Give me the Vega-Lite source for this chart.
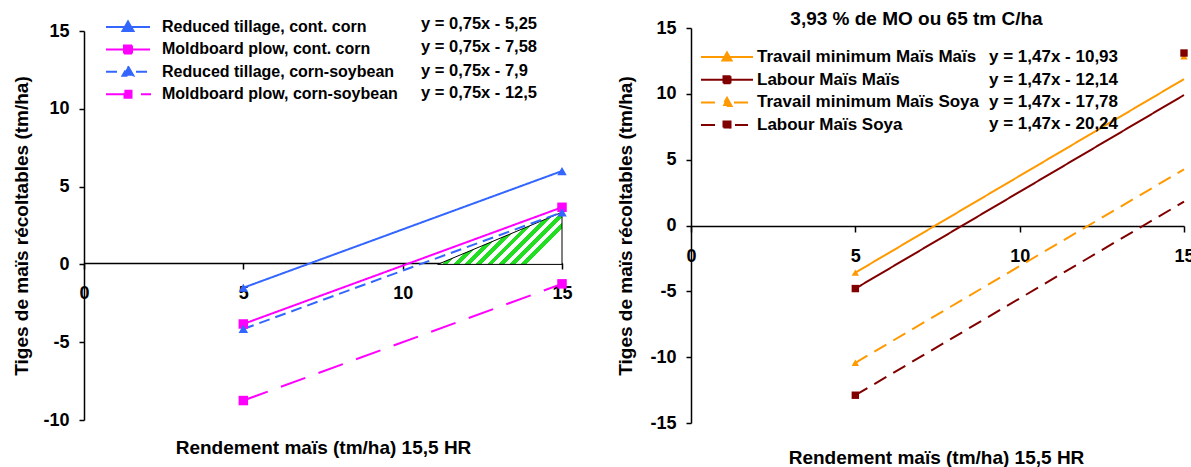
{
  "$schema": "https://vega.github.io/schema/vega-lite/v6.json",
  "padding": {"left": 12, "top": 10, "right": 0, "bottom": 0},
  "bounds": "flush",
  "center": true,
  "spacing": 129,
  "resolve": {
    "scale": {"color": "independent", "strokeDash": "independent", "strokeWidth": "independent", "shape": "independent", "x": "independent", "y": "independent"},
    "legend": {"color": "independent", "shape": "independent"}
  },
  "config": {
    "view": {"stroke": null},
    "font": "Liberation Sans",
    "axis": {
      "grid": false,
      "domainColor": "black",
      "domainWidth": 1.5,
      "tickColor": "black",
      "tickWidth": 1.5,
      "labelColor": "black",
      "titleColor": "black",
      "labelFont": "Liberation Sans",
      "titleFont": "Liberation Sans",
      "labelFontSize": 18,
      "labelFontWeight": "bold",
      "titleFontSize": 19,
      "titleFontWeight": "bold",
      "labelFlush": false,
      "labelOverlap": false,
      "labelExpr": "toString(datum.value)"
    },
    "legend": {
      "labelFont": "Liberation Sans",
      "labelFontWeight": "bold",
      "labelColor": "black",
      "padding": 0,
      "symbolSize": 400,
      "labelLimit": 500
    }
  },
  "datasets": {
    "L": [
      {"series": "Reduced tillage, cont. corn", "eq": "y = 0,75x - 5,25", "x": 5, "y": -1.5},
      {"series": "Reduced tillage, cont. corn", "eq": "y = 0,75x - 5,25", "x": 15, "y": 6},
      {"series": "Moldboard plow, cont. corn", "eq": "y = 0,75x - 7,58", "x": 5, "y": -3.83},
      {"series": "Moldboard plow, cont. corn", "eq": "y = 0,75x - 7,58", "x": 15, "y": 3.67},
      {"series": "Reduced tillage, corn-soybean", "eq": "y = 0,75x - 7,9", "x": 5, "y": -4.15},
      {"series": "Reduced tillage, corn-soybean", "eq": "y = 0,75x - 7,9", "x": 15, "y": 3.35},
      {"series": "Moldboard plow, corn-soybean", "eq": "y = 0,75x - 12,5", "x": 5, "y": -8.75},
      {"series": "Moldboard plow, corn-soybean", "eq": "y = 0,75x - 12,5", "x": 15, "y": -1.25}
    ],
    "H": [
      {"x": 11.1, "y": 0, "y2": 0},
      {"x": 15, "y": 3.35, "y2": 0}
    ],
    "R": [
      {"series": "Travail minimum Maïs Maïs", "eq": "y = 1,47x - 10,93", "x": 5, "y": -3.58},
      {"series": "Travail minimum Maïs Maïs", "eq": "y = 1,47x - 10,93", "x": 15, "y": 11.12},
      {"series": "Labour Maïs Maïs", "eq": "y = 1,47x - 12,14", "x": 5, "y": -4.79},
      {"series": "Labour Maïs Maïs", "eq": "y = 1,47x - 12,14", "x": 15, "y": 9.91},
      {"series": "Travail minimum Maïs Soya", "eq": "y = 1,47x - 17,78", "x": 5, "y": -10.43},
      {"series": "Travail minimum Maïs Soya", "eq": "y = 1,47x - 17,78", "x": 15, "y": 4.27},
      {"series": "Labour Maïs Soya", "eq": "y = 1,47x - 20,24", "x": 5, "y": -12.89},
      {"series": "Labour Maïs Soya", "eq": "y = 1,47x - 20,24", "x": 15, "y": 1.81}
    ],
    "RP": [
      {"series": "Travail minimum Maïs Maïs", "x": 5, "y": -3.58},
      {"series": "Labour Maïs Maïs", "x": 5, "y": -4.79},
      {"series": "Travail minimum Maïs Soya", "x": 5, "y": -10.43},
      {"series": "Labour Maïs Soya", "x": 5, "y": -12.89},
      {"series": "Travail minimum Maïs Maïs", "x": 15, "y": 12.85},
      {"series": "Labour Maïs Maïs", "x": 15, "y": 13.1}
    ]
  },
  "hconcat": [
    {
      "width": 478,
      "height": 389,
      "resolve": {"scale": {"shape": "independent"}},
      "layer": [
        {
          "data": {"name": "H"},
          "mark": {
            "type": "area",
            "stroke": "black",
            "strokeWidth": 1,
            "fill": {
              "gradient": "linear", "x1": 0, "y1": 0, "x2": 1, "y2": 0.42,
              "stops": [
                {"offset": 0, "color": "#22dd22"}, {"offset": 0.0385, "color": "#22dd22"}, {"offset": 0.0385, "color": "white"}, {"offset": 0.0769, "color": "white"},
                {"offset": 0.0769, "color": "#22dd22"}, {"offset": 0.1154, "color": "#22dd22"}, {"offset": 0.1154, "color": "white"}, {"offset": 0.1538, "color": "white"},
                {"offset": 0.1538, "color": "#22dd22"}, {"offset": 0.1923, "color": "#22dd22"}, {"offset": 0.1923, "color": "white"}, {"offset": 0.2308, "color": "white"},
                {"offset": 0.2308, "color": "#22dd22"}, {"offset": 0.2692, "color": "#22dd22"}, {"offset": 0.2692, "color": "white"}, {"offset": 0.3077, "color": "white"},
                {"offset": 0.3077, "color": "#22dd22"}, {"offset": 0.3462, "color": "#22dd22"}, {"offset": 0.3462, "color": "white"}, {"offset": 0.3846, "color": "white"},
                {"offset": 0.3846, "color": "#22dd22"}, {"offset": 0.4231, "color": "#22dd22"}, {"offset": 0.4231, "color": "white"}, {"offset": 0.4615, "color": "white"},
                {"offset": 0.4615, "color": "#22dd22"}, {"offset": 0.5, "color": "#22dd22"}, {"offset": 0.5, "color": "white"}, {"offset": 0.5385, "color": "white"},
                {"offset": 0.5385, "color": "#22dd22"}, {"offset": 0.5769, "color": "#22dd22"}, {"offset": 0.5769, "color": "white"}, {"offset": 0.6154, "color": "white"},
                {"offset": 0.6154, "color": "#22dd22"}, {"offset": 0.6538, "color": "#22dd22"}, {"offset": 0.6538, "color": "white"}, {"offset": 0.6923, "color": "white"},
                {"offset": 0.6923, "color": "#22dd22"}, {"offset": 0.7308, "color": "#22dd22"}, {"offset": 0.7308, "color": "white"}, {"offset": 0.7692, "color": "white"},
                {"offset": 0.7692, "color": "#22dd22"}, {"offset": 0.8077, "color": "#22dd22"}, {"offset": 0.8077, "color": "white"}, {"offset": 0.8462, "color": "white"},
                {"offset": 0.8462, "color": "#22dd22"}, {"offset": 0.8846, "color": "#22dd22"}, {"offset": 0.8846, "color": "white"}, {"offset": 0.9231, "color": "white"},
                {"offset": 0.9231, "color": "#22dd22"}, {"offset": 0.9615, "color": "#22dd22"}, {"offset": 0.9615, "color": "white"}, {"offset": 1, "color": "white"}
              ]
            }
          },
          "encoding": {
            "x": {
              "field": "x", "type": "quantitative",
              "scale": {"domain": [0, 15], "nice": false},
              "axis": {
                "values": [0, 5, 10, 15],
                "offset": -157,
                "tickSize": 6,
                "labelPadding": 15,
                "title": "Rendement maïs (tm/ha) 15,5 HR",
                "titleX": 239,
                "titleY": 184,
                "titleBaseline": "middle",
                "titleAlign": "center"
              }
            },
            "y": {
              "field": "y", "type": "quantitative",
              "scale": {"domain": [-10, 15], "nice": false},
              "axis": {
                "values": [-10, -5, 0, 5, 10, 15],
                "tickSize": 5,
                "labelPadding": 10,
                "title": "Tiges de maïs récoltables (tm/ha)",
                "titleX": -63,
                "titleBaseline": "middle",
                "titleAlign": "center"
              }
            },
            "y2": {"field": "y2"}
          }
        },
        {
          "data": {"name": "L"},
          "mark": {"type": "line"},
          "encoding": {
            "x": {"field": "x", "type": "quantitative"},
            "y": {"field": "y", "type": "quantitative"},
            "color": {
              "field": "series", "type": "nominal",
              "scale": {
                "domain": ["Reduced tillage, cont. corn", "Moldboard plow, cont. corn", "Reduced tillage, corn-soybean", "Moldboard plow, corn-soybean"],
                "range": ["#3366ff", "#ff00ff", "#3366ff", "#ff00ff"]
              },
              "legend": {
                "orient": "none",
                "legendX": 33,
                "legendY": -15,
                "title": null,
                "labelOffset": 23,
                "labelFontSize": 16,
                "rowPadding": 3.4,
                "encode": {
                  "symbols": {
                    "update": {
                      "shape": {"signal": "['M-2.2,0H2.2M0,-0.55L0.55,0.4L-0.55,0.4Z','M-2.2,0H2.2M-0.4,-0.4H0.4V0.4H-0.4Z','M-2.2,0H-0.8M0.8,0H2.2M0,-0.55L0.55,0.4L-0.55,0.4Z','M-2.2,0H0M1.3,0H2.3M-0.35,-0.35H0.35V0.35H-0.35Z'][indexof(['Reduced tillage, cont. corn','Moldboard plow, cont. corn','Reduced tillage, corn-soybean','Moldboard plow, corn-soybean'], datum.value)]"},
                      "fill": {"signal": "indexof(['Reduced tillage, cont. corn','Reduced tillage, corn-soybean'], datum.value) >= 0 ? '#3366ff' : '#ff00ff'"},
                      "stroke": {"signal": "indexof(['Reduced tillage, cont. corn','Reduced tillage, corn-soybean'], datum.value) >= 0 ? '#3366ff' : '#ff00ff'"},
                      "strokeWidth": {"signal": "datum.value == 'Moldboard plow, corn-soybean' ? 3.5 : 2"},
                      "strokeDash": {"value": []},
                      "opacity": {"value": 1}
                    }
                  }
                }
              }
            },
            "strokeDash": {
              "field": "series", "type": "nominal", "legend": null,
              "scale": {
                "domain": ["Reduced tillage, cont. corn", "Moldboard plow, cont. corn", "Reduced tillage, corn-soybean", "Moldboard plow, corn-soybean"],
                "range": [[1, 0], [1, 0], [11, 6], [26, 14]]
              }
            },
            "strokeWidth": {
              "field": "series", "type": "nominal", "legend": null,
              "scale": {
                "domain": ["Reduced tillage, cont. corn", "Moldboard plow, cont. corn", "Reduced tillage, corn-soybean", "Moldboard plow, corn-soybean"],
                "range": [2, 2, 2.5, 4]
              }
            }
          }
        },
        {
          "data": {"name": "L"},
          "mark": {"type": "point", "filled": true, "opacity": 1},
          "encoding": {
            "x": {"field": "x", "type": "quantitative"},
            "y": {"field": "y", "type": "quantitative"},
            "color": {"field": "series", "type": "nominal"},
            "shape": {
              "field": "series", "type": "nominal", "legend": null,
              "scale": {
                "domain": ["Reduced tillage, cont. corn", "Moldboard plow, cont. corn", "Reduced tillage, corn-soybean", "Moldboard plow, corn-soybean"],
                "range": ["triangle-up", "square", "triangle-up", "square"]
              }
            },
            "size": {"value": 90}
          }
        },
        {
          "data": {"name": "L"},
          "mark": {"type": "point", "opacity": 0},
          "encoding": {
            "x": {"field": "x", "type": "quantitative"},
            "y": {"field": "y", "type": "quantitative"},
            "shape": {
              "field": "eq", "type": "nominal",
              "scale": {"domain": ["y = 0,75x - 5,25", "y = 0,75x - 7,58", "y = 0,75x - 7,9", "y = 0,75x - 12,5"]},
              "legend": {
                "orient": "none",
                "legendX": 315,
                "legendY": -18,
                "title": null,
                "labelOffset": 0,
                "labelFontSize": 16.5,
                "rowPadding": 2.4,
                "symbolOpacity": 0
              }
            }
          }
        }
      ]
    },
    {
      "width": 493,
      "height": 395,
      "title": {
        "text": "3,93 % de MO ou 65 tm C/ha",
        "font": "Liberation Sans",
        "fontSize": 19,
        "fontWeight": "bold",
        "color": "black",
        "anchor": "middle",
        "dx": -21,
        "offset": -10
      },
      "resolve": {"scale": {"shape": "independent"}},
      "layer": [
        {
          "data": {"name": "R"},
          "mark": {"type": "line"},
          "encoding": {
            "x": {
              "field": "x", "type": "quantitative",
              "scale": {"domain": [0, 15], "nice": false},
              "axis": {
                "values": [0, 5, 10, 15],
                "offset": -197,
                "tickSize": 6,
                "labelPadding": 15,
                "title": "Rendement maïs (tm/ha) 15,5 HR",
                "titleX": 245,
                "titleY": 231,
                "titleBaseline": "middle",
                "titleAlign": "center"
              }
            },
            "y": {
              "field": "y", "type": "quantitative",
              "scale": {"domain": [-15, 15], "nice": false},
              "axis": {
                "values": [-15, -10, -5, 0, 5, 10, 15],
                "tickSize": 5,
                "labelPadding": 10,
                "title": "Tiges de maïs récoltables (tm/ha)",
                "titleX": -66,
                "titleBaseline": "middle",
                "titleAlign": "center"
              }
            },
            "color": {
              "field": "series", "type": "nominal",
              "scale": {
                "domain": ["Travail minimum Maïs Maïs", "Labour Maïs Maïs", "Travail minimum Maïs Soya", "Labour Maïs Soya"],
                "range": ["#ff9900", "#800000", "#ff9900", "#800000"]
              },
              "legend": {
                "orient": "none",
                "legendX": 25,
                "legendY": 18,
                "title": null,
                "labelOffset": 19,
                "labelFontSize": 17,
                "rowPadding": 3.7,
                "encode": {
                  "symbols": {
                    "update": {
                      "shape": {"signal": "['M-2.6,0H2.6M0,-0.45L0.45,0.35L-0.45,0.35Z','M-2.6,0H2.6M-0.35,-0.35H0.35V0.35H-0.35Z','M-2.6,0H-0.9M0.7,0H2.1M0,-0.45L0.45,0.35L-0.45,0.35Z','M-2.6,0H-0.2M0.8,0H2.1M-0.35,-0.35H0.35V0.35H-0.35Z'][indexof(['Travail minimum Maïs Maïs','Labour Maïs Maïs','Travail minimum Maïs Soya','Labour Maïs Soya'], datum.value)]"},
                      "fill": {"signal": "indexof(['Travail minimum Maïs Maïs','Travail minimum Maïs Soya'], datum.value) >= 0 ? '#ff9900' : '#800000'"},
                      "stroke": {"signal": "indexof(['Travail minimum Maïs Maïs','Travail minimum Maïs Soya'], datum.value) >= 0 ? '#ff9900' : '#800000'"},
                      "strokeWidth": {"value": 2},
                      "strokeDash": {"value": []},
                      "opacity": {"value": 1}
                    }
                  }
                }
              }
            },
            "strokeDash": {
              "field": "series", "type": "nominal", "legend": null,
              "scale": {
                "domain": ["Travail minimum Maïs Maïs", "Labour Maïs Maïs", "Travail minimum Maïs Soya", "Labour Maïs Soya"],
                "range": [[1, 0], [1, 0], [14, 8], [14, 8]]
              }
            },
            "strokeWidth": {"value": 2}
          }
        },
        {
          "data": {"name": "RP"},
          "mark": {"type": "point", "filled": true, "opacity": 1},
          "encoding": {
            "x": {"field": "x", "type": "quantitative"},
            "y": {"field": "y", "type": "quantitative"},
            "color": {"field": "series", "type": "nominal"},
            "shape": {
              "field": "series", "type": "nominal", "legend": null,
              "scale": {
                "domain": ["Travail minimum Maïs Maïs", "Labour Maïs Maïs", "Travail minimum Maïs Soya", "Labour Maïs Soya"],
                "range": ["triangle-up", "square", "triangle-up", "square"]
              }
            },
            "size": {"value": 55}
          }
        },
        {
          "data": {"name": "R"},
          "mark": {"type": "point", "opacity": 0},
          "encoding": {
            "x": {"field": "x", "type": "quantitative"},
            "y": {"field": "y", "type": "quantitative"},
            "shape": {
              "field": "eq", "type": "nominal",
              "scale": {"domain": ["y = 1,47x - 10,93", "y = 1,47x - 12,14", "y = 1,47x - 17,78", "y = 1,47x - 20,24"]},
              "legend": {
                "orient": "none",
                "legendX": 276,
                "legendY": 18,
                "title": null,
                "labelOffset": 0,
                "labelFontSize": 17,
                "rowPadding": 1.7,
                "symbolOpacity": 0
              }
            }
          }
        }
      ]
    }
  ]
}
